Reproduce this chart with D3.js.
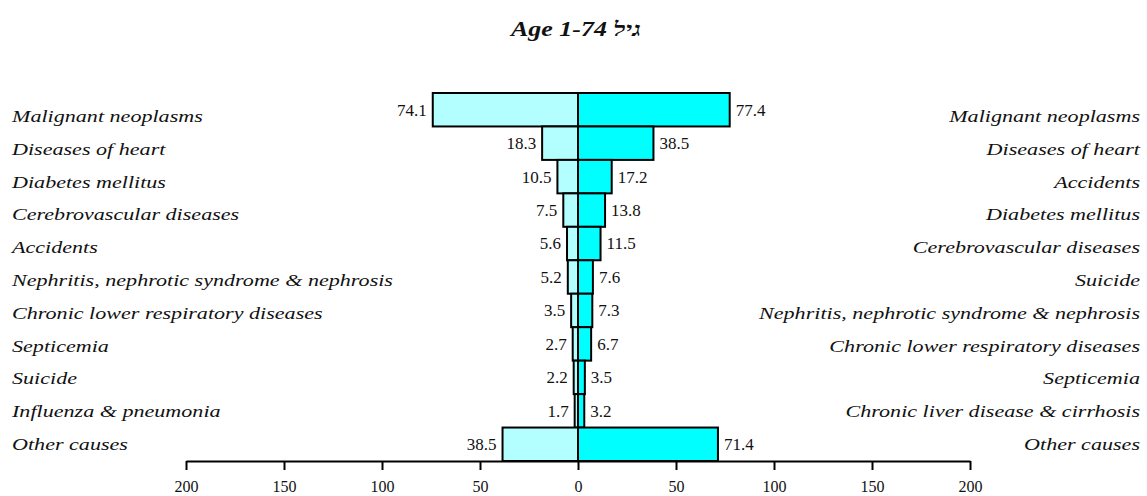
<!DOCTYPE html>
<html>
<head>
<meta charset="utf-8">
<script src="https://cdn.jsdelivr.net/npm/d3@7"></script>
<style>
  body { margin: 0; background: #fff; }
  svg text { font-family: "Liberation Serif", "DejaVu Serif", serif; fill: #111; }
</style>
</head>
<body>
<div id="main"></div>
<script>
// left side (light bars)
const leftCauses = ["Malignant neoplasms", "Diseases of heart", "Diabetes mellitus", "Cerebrovascular diseases",
  "Accidents", "Nephritis, nephrotic syndrome & nephrosis", "Chronic lower respiratory diseases",
  "Septicemia", "Suicide", "Influenza & pneumonia", "Other causes"];
const leftValues = [74.1, 18.3, 10.5, 7.5, 5.6, 5.2, 3.5, 2.7, 2.2, 1.7, 38.5];

// right side (cyan bars)
const rightCauses = ["Malignant neoplasms", "Diseases of heart", "Accidents", "Diabetes mellitus",
  "Cerebrovascular diseases", "Suicide", "Nephritis, nephrotic syndrome & nephrosis",
  "Chronic lower respiratory diseases", "Septicemia", "Chronic liver disease & cirrhosis", "Other causes"];
const rightValues = [77.4, 38.5, 17.2, 13.8, 11.5, 7.6, 7.3, 6.7, 3.5, 3.2, 71.4];

const tickValues = [-200, -150, -100, -50, 0, 50, 100, 150, 200];

const width = 1147, height = 496;
const stretch = 1.3; // the original lettering is wide
const svg = d3.select('#main').append('svg').attr('width', width).attr('height', height);

const x = d3.scaleLinear().domain([-200, 200]).range([186, 970]);
const rows = d3.range(leftValues.length);
const y = d3.scaleBand().domain(rows).range([93, 461]).padding(0);
const yLabel = d3.scalePoint().domain(rows).range([116, 444]);

// title
svg.append('text')
  .attr('transform', 'translate(576,36) scale(' + stretch + ',1)')
  .attr('text-anchor', 'middle')
  .style('font-size', '20px').style('font-weight', 'bold').style('font-style', 'italic')
  .text('Age 1-74 גיל');

// bars
svg.append('g').selectAll('rect')
  .data(leftValues)
  .enter().append('rect')
  .attr('x', d => x(-d)).attr('y', (d, i) => y(i))
  .attr('width', d => x(0) - x(-d)).attr('height', y.bandwidth())
  .attr('fill', '#b3ffff').attr('stroke', '#000').attr('stroke-width', 2);

svg.append('g').selectAll('rect')
  .data(rightValues)
  .enter().append('rect')
  .attr('x', x(0)).attr('y', (d, i) => y(i))
  .attr('width', d => x(d) - x(0)).attr('height', y.bandwidth())
  .attr('fill', '#00ffff').attr('stroke', '#000').attr('stroke-width', 2);

// value labels
svg.append('g').selectAll('text')
  .data(leftValues)
  .enter().append('text')
  .attr('x', d => x(-d) - 6).attr('y', (d, i) => y(i) + y.bandwidth() / 2)
  .attr('dy', '0.35em').attr('text-anchor', 'end')
  .style('font-size', '17px')
  .text(d => d.toFixed(1));

svg.append('g').selectAll('text')
  .data(rightValues)
  .enter().append('text')
  .attr('x', d => x(d) + 6).attr('y', (d, i) => y(i) + y.bandwidth() / 2)
  .attr('dy', '0.35em')
  .style('font-size', '17px')
  .text(d => d.toFixed(1));

// category names
svg.append('g').selectAll('text')
  .data(leftCauses)
  .enter().append('text')
  .attr('transform', (d, i) => 'translate(12,' + yLabel(i) + ') scale(' + stretch + ',1)')
  .attr('dy', '0.35em')
  .style('font-size', '17px').style('font-style', 'italic')
  .text(d => d);

svg.append('g').selectAll('text')
  .data(rightCauses)
  .enter().append('text')
  .attr('transform', (d, i) => 'translate(1140,' + yLabel(i) + ') scale(' + stretch + ',1)')
  .attr('dy', '0.35em').attr('text-anchor', 'end')
  .style('font-size', '17px').style('font-style', 'italic')
  .text(d => d);

// axis
const xAxis = d3.axisBottom(x)
  .tickValues(tickValues)
  .tickFormat(d => Math.abs(d))
  .tickSize(9)
  .tickSizeOuter(0);

const axisG = svg.append('g')
  .attr('transform', 'translate(0,' + 461 + ')')
  .call(xAxis);
axisG.select('.domain').attr('stroke-width', 2);
axisG.selectAll('.tick line').attr('stroke-width', 2);
axisG.selectAll('.tick text')
  .attr('y', 20)
  .style('font-size', '16px')
  .style('font-family', '"Liberation Serif", serif');
</script>
</body>
</html>
